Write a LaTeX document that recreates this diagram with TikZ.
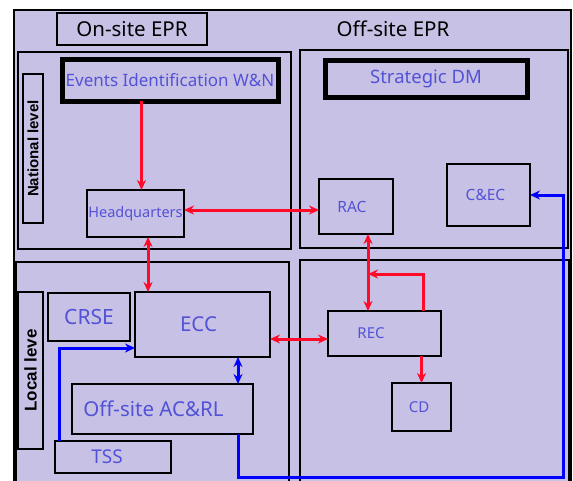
\documentclass[tikz,border=0pt]{standalone}
\usepackage{fontspec}
\setmainfont{Noto Sans}
\newfontfamily\lvlfont{Liberation Sans}
\usetikzlibrary{arrows.meta,calc}
\definecolor{bglav}{RGB}{200,193,230}
\definecolor{boxtext}{RGB}{82,82,214}
\definecolor{linkred}{RGB}{255,10,40}
\definecolor{linkblue}{RGB}{0,0,255}
\tikzset{
    %Define standard arrow tip
    >={Stealth[length=10pt,width=9pt]},
    % Define link styles
    redlink/.style={
           ->,
           color=linkred,
           line width=3pt,},
    bluelink/.style={
           ->,
           color=linkblue,
           line width=3pt,}
}
\newcommand{\fsz}[1]{\fontsize{#1}{#1}\selectfont}

\begin{document}
\begin{tikzpicture}[x=1pt, y=-1pt, outer sep=0pt]
\tikzstyle{epbox}=[draw=black, rectangle, line width=2.6pt, anchor=north west, inner sep=0pt,
                   align=center, text=boxtext]
\tikzstyle{thickbox}=[epbox, line width=5pt]
\tikzstyle{levelbox}=[draw=black, rectangle, line width=2.6pt, inner sep=0pt, rotate=90]
\tikzstyle{panel}=[draw=black, line width=2.2pt]

\useasboundingbox (0,0) rectangle (573,480);
\clip (0,0) rectangle (573,480);

%%%%%%%%%%%%%%%%%%%%%%%%%%%%%%%%%
% frame and panels
%%%%%%%%%%%%%%%%%%%%%%%%%%%%%%%%%
\draw[line width=2.4pt, fill=bglav] (14,10) rectangle (571,490);
\draw[panel] (18,52) rectangle (291,249);
\draw[panel] (300,50) rectangle (568,248);
\draw[panel] (16,262) rectangle (289,490);
\draw[panel] (300,260) rectangle (569,490);

%%%%%%%%%%%%%%%%%%%%%%%%%%%%%%%%%
% headings and levels
%%%%%%%%%%%%%%%%%%%%%%%%%%%%%%%%%
\node[epbox, minimum width=150pt, minimum height=32pt, text=black, font=\fsz{20.5}] (onsite) at (57,13) {On-site EPR};
\node[text=black, font=\fsz{20.5}] (offsite) at (393,29) {Off-site EPR};
\node[levelbox, minimum width=149pt, minimum height=20pt, font=\lvlfont\bfseries\fsz{15}] (natlvl) at (33,148.5) {National level};
\node[levelbox, minimum width=157pt, minimum height=25pt, font=\lvlfont\bfseries\fsz{17}] (loclvl) at (30.5,370.5) {Local leve};

%%%%%%%%%%%%%%%%%%%%%%%%%%%%%%%%%
% national level
%%%%%%%%%%%%%%%%%%%%%%%%%%%%%%%%%
\node[thickbox, minimum width=216pt, minimum height=42pt, font=\fsz{17}] (events) at (62,59) {Events Identification W\&N};
\node[epbox, minimum width=97pt, minimum height=47pt, font=\fsz{14.5}] (hq) at (87,190) {Headquarters};
\node[thickbox, minimum width=202pt, minimum height=37pt, font=\fsz{18.5}] (sdm) at (325,60) {Strategic DM};
\node[epbox, minimum width=74pt, minimum height=55pt, font=\fsz{15.5}] (rac) at (319,179) {RAC\hspace*{8pt}};
\node[epbox, minimum width=83pt, minimum height=62pt, font=\fsz{15.5}] (cec) at (447,164) {C\&EC\hspace*{6pt}};

%%%%%%%%%%%%%%%%%%%%%%%%%%%%%%%%%
% local level
%%%%%%%%%%%%%%%%%%%%%%%%%%%%%%%%%
\node[epbox, minimum width=82pt, minimum height=48pt, font=\fsz{21}] (crse) at (48,293) {CRSE};
\node[epbox, minimum width=135pt, minimum height=65pt, font=\fsz{20.5}] (ecc) at (135,292) {ECC\hspace*{8pt}};
\node[epbox, minimum width=181pt, minimum height=50pt, font=\fsz{20.5}] (acrl) at (72,384) {Off-site AC\&RL\hspace*{18pt}};
\node[epbox, minimum width=116pt, minimum height=32pt, font=\fsz{19}] (tss) at (55,441) {TSS\hspace*{12pt}};
\node[epbox, minimum width=113pt, minimum height=45pt, font=\fsz{15}] (rec) at (328,311) {REC\hspace*{27pt}};
\node[epbox, minimum width=59pt, minimum height=48pt, font=\fsz{15}] (cd) at (392,383) {CD\hspace*{5pt}};

\coordinate (recloop) at (368,274);
\coordinate (bluebend) at (563,477);

% red links
\draw[redlink] ([xshift=6pt]hq.north |- events.south) -- ([xshift=6pt]hq.north);
\draw[redlink,<->] ([yshift=3.5pt]hq.east) -- ([yshift=-3.5pt]rac.west);
\draw[redlink,<->] ([xshift=12.5pt]hq.south) -- ([xshift=12.5pt]hq.south |- ecc.north);
\draw[redlink,<->] ([yshift=-14.5pt]ecc.east) -- ([yshift=-14.5pt]ecc.east -| rec.west);
\draw[redlink,<->] ([xshift=12pt]rac.south) -- ([xshift=12pt]rac.south |- rec.north);
\draw[redlink] ([xshift=38.5pt]rec.north) |- (recloop);
\draw[redlink] (rec.south -| cd.north) -- (cd.north);

% blue links
\draw[bluelink,<->] ([xshift=35.5pt]ecc.south) -- ([xshift=35.5pt]ecc.south |- acrl.north);
\draw[bluelink] ([xshift=-54pt]tss.north) |- ([yshift=-23.5pt]ecc.west);
\draw[bluelink] ([xshift=75.5pt]acrl.south) |- (bluebend) |- (cec.east);

\end{tikzpicture}
\end{document}
